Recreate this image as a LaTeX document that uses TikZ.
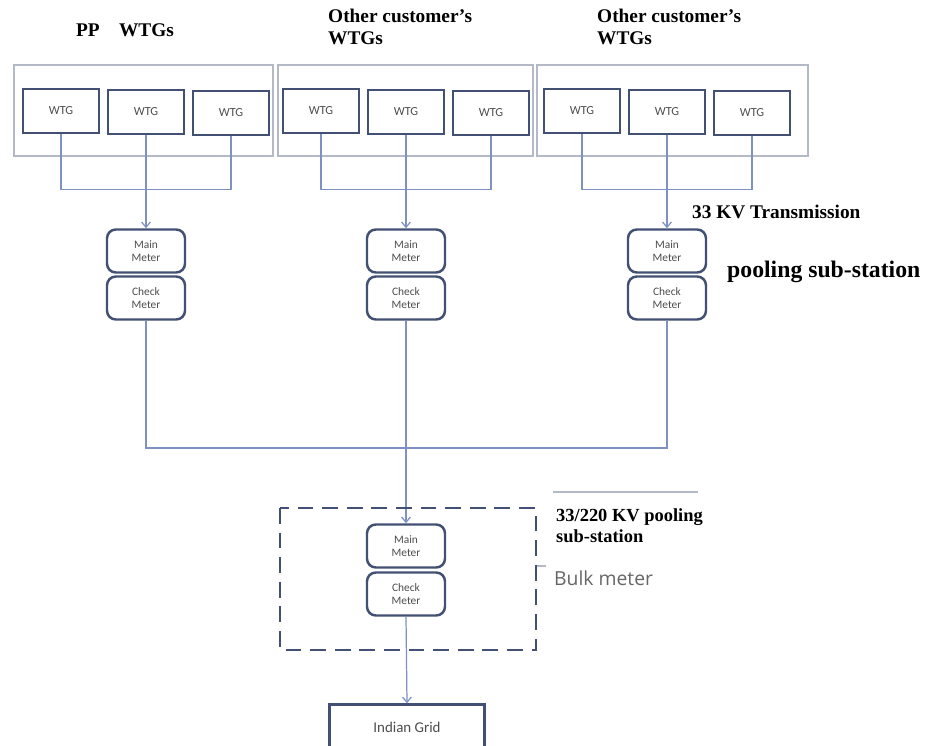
\documentclass[tikz,border=0pt]{standalone}
\usepackage{fontspec}
\setmainfont{Liberation Serif}
\setsansfont{Carlito}
\newfontfamily\labelfont{Open Sans}
\usetikzlibrary{arrows.meta}

\definecolor{wire}{RGB}{125,145,195}
\definecolor{edge}{RGB}{65,80,115}
\definecolor{frame}{RGB}{180,185,200}

\tikzset{
  wtg/.style={draw=edge,line width=1.4pt,minimum width=1.52cm,minimum height=0.88cm,
    font=\sffamily\fontsize{7}{8}\selectfont,text=black!70},
  meter/.style={draw=edge,line width=1.4pt,rounded corners=5pt,minimum width=1.56cm,
    minimum height=0.86cm,align=center,font=\sffamily\fontsize{6.5}{7.5}\selectfont,text=black!70},
  wire/.style={draw=wire,line width=0.7pt},
  flow/.style={wire,-{Straight Barb[length=3pt,width=5pt]}},
  title/.style={font=\bfseries\fontsize{11}{12.5}\selectfont,align=left}
}

\begin{document}
\begin{tikzpicture}[x=0.02cm,y=-0.02cm]
\useasboundingbox (0,0) rectangle (932,746);

% group titles
\node[title] (ttl-a) at (125,30) {PP\quad WTGs};
\node[title,anchor=north west] (ttl-b) at (322,3) {Other customer’s\\WTGs};
\node[title,anchor=north west] (ttl-c) at (591,3) {Other customer’s\\WTGs};

% three groups of WTGs with their meters
\foreach \g/\cx/\fl/\fr in {a/146/14/273, b/406/278/533, c/667/537/808}{
  \draw[frame,line width=0.8pt] (\fl,65) rectangle (\fr,156);
  \node[wtg] (\g1) at (\cx-85,111) {WTG};
  \node[wtg] (\g2) at (\cx,112) {WTG};
  \node[wtg] (\g3) at (\cx+85,113) {WTG};
  \node[meter] (\g-main) at (\cx,251) {Main\\Meter};
  \node[meter] (\g-chk) at (\cx,298) {Check\\Meter};
  \draw[wire] (\g1.south) -- ++(0,55) -| (\g3.south);
  \draw[flow] (\g2.south) -- (\g-main.north);
}

\coordinate (bus) at (406,448);

% bulk meter in the 33/220 KV sub-station
\node[meter] (bulk-main) at (406,546) {Main\\Meter};
\node[meter] (bulk-chk) at (406,594) {Check\\Meter};
\node[wtg,minimum width=3.1cm,minimum height=0.9cm,font=\sffamily\fontsize{8.5}{9}\selectfont]
  (grid) at (407,727) {Indian Grid};

\draw[wire] (a-chk.south) |- (bus) -| (c-chk.south);
\draw[flow] (b-chk.south) -- (bulk-main.north);
\draw[flow] (bulk-chk.south) -- (grid.north);

\draw[edge,line width=1.6pt,dash pattern=on 9pt off 5pt] (280,508) rectangle (536,650);
\draw[frame,line width=0.8pt] (537,566) -- (546,566);
\draw[frame,line width=0.8pt] (553,492) -- (698,492);

% labels on the right
\node[title,anchor=west] (lbl-33) at (686,212) {33 KV Transmission};
\node[anchor=west,font=\bfseries\fontsize{13.5}{15}\selectfont] (lbl-pool) at (721,272) {pooling sub-station};
\node[title,font=\bfseries\fontsize{10.5}{12}\selectfont,anchor=north west] (lbl-220) at (550,502) {33/220 KV pooling\\sub-station};
\node[anchor=west,font=\labelfont\fontsize{11}{13}\selectfont,text=black!60] (lbl-bulk) at (548,578) {Bulk meter};
\end{tikzpicture}
\end{document}
